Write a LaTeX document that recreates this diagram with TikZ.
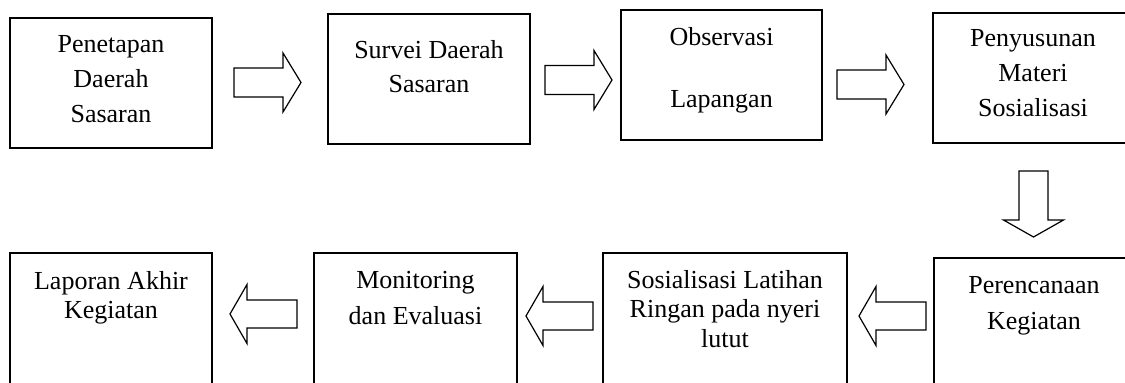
\documentclass[tikz,border=0pt]{standalone}
\usepackage{fontspec}
\setmainfont{Liberation Serif}
\usetikzlibrary{calc}
\tikzset{
  box/.style={draw, line width=1.2pt, rectangle, inner sep=0pt, minimum height=#1},
  box/.default=130pt,
  txt/.style={anchor=north, inner sep=0pt, align=center, font=\fontsize{26}{#1}\selectfont},
  barrow/.style={draw, line width=1.2pt, line join=miter, fill=white},
  rarrow/.pic={\draw[barrow] (0,-14.5) -- (49,-14.5) -- (49,-29.5) -- (67,0) -- (49,29.5) -- (49,14.5) -- (0,14.5) -- cycle;},
  larrow/.pic={\draw[barrow] (0,-14) -- (-50,-14) -- (-50,-29.5) -- (-67,0) -- (-50,29.5) -- (-50,14) -- (0,14) -- cycle;},
  darrow/.pic={\draw[barrow] (-14.5,0) -- (-14.5,49) -- (-30,49) -- (0,66) -- (30,49) -- (14.5,49) -- (14.5,0) -- cycle;}
}
\begin{document}
\begin{tikzpicture}[x=1pt,y=-1pt]
\useasboundingbox (0,0) rectangle (1125,383);
\clip (0,0) rectangle (1125,383);
% top row
\node[box, minimum width=202pt] (b1) at (111,83) {};
\node[box, minimum width=202pt] (b2) at (429,79) {};
\node[box, minimum width=201pt] (b3) at (721.5,75) {};
\node[box, minimum width=200pt] (b4) at (1033,78) {};
% bottom row
\node[box=150pt, minimum width=200pt] (b5) at (1034,333) {};
\node[box=150pt, minimum width=244pt] (b6) at (725,328) {};
\node[box=150pt, minimum width=203pt] (b7) at (415.5,328) {};
\node[box=150pt, minimum width=202pt] (b8) at (111,328) {};
% texts
\node[txt=35] (t1) at ($(b1.north)+(0,17.5)$) {Penetapan\\Daerah\\Sasaran};
\node[txt=34] (t2) at ($(b2.north)+(0,26.5)$) {Survei Daerah\\Sasaran};
\node[txt=62] (t3) at ($(b3.north)+(0,17.5)$) {Observasi\\Lapangan};
\node[txt=35] (t4) at ($(b4.north)+(0,16.5)$) {Penyusunan\\Materi\\Sosialisasi};
\node[txt=36] (t5) at ($(b5.north)+(0,18.5)$) {Perencanaan\\Kegiatan};
\node[txt=29.5] (t6) at ($(b6.north)+(0,17.5)$) {Sosialisasi Latihan\\Ringan pada nyeri\\lutut};
\node[txt=36] (t7) at ($(b7.north)+(0,18.5)$) {Monitoring\\dan Evaluasi};
\node[txt=29] (t8) at ($(b8.north)+(0,18.5)$) {Laporan Akhir\\Kegiatan};
% block arrows
\pic at (234,82.5) {rarrow};
\pic at (545,80) {rarrow};
\pic at (837,84.5) {rarrow};
\pic at (1033.5,171) {darrow};
\pic at (926,316) {larrow};
\pic at (593,316) {larrow};
\pic at (297,314) {larrow};
\end{tikzpicture}
\end{document}
